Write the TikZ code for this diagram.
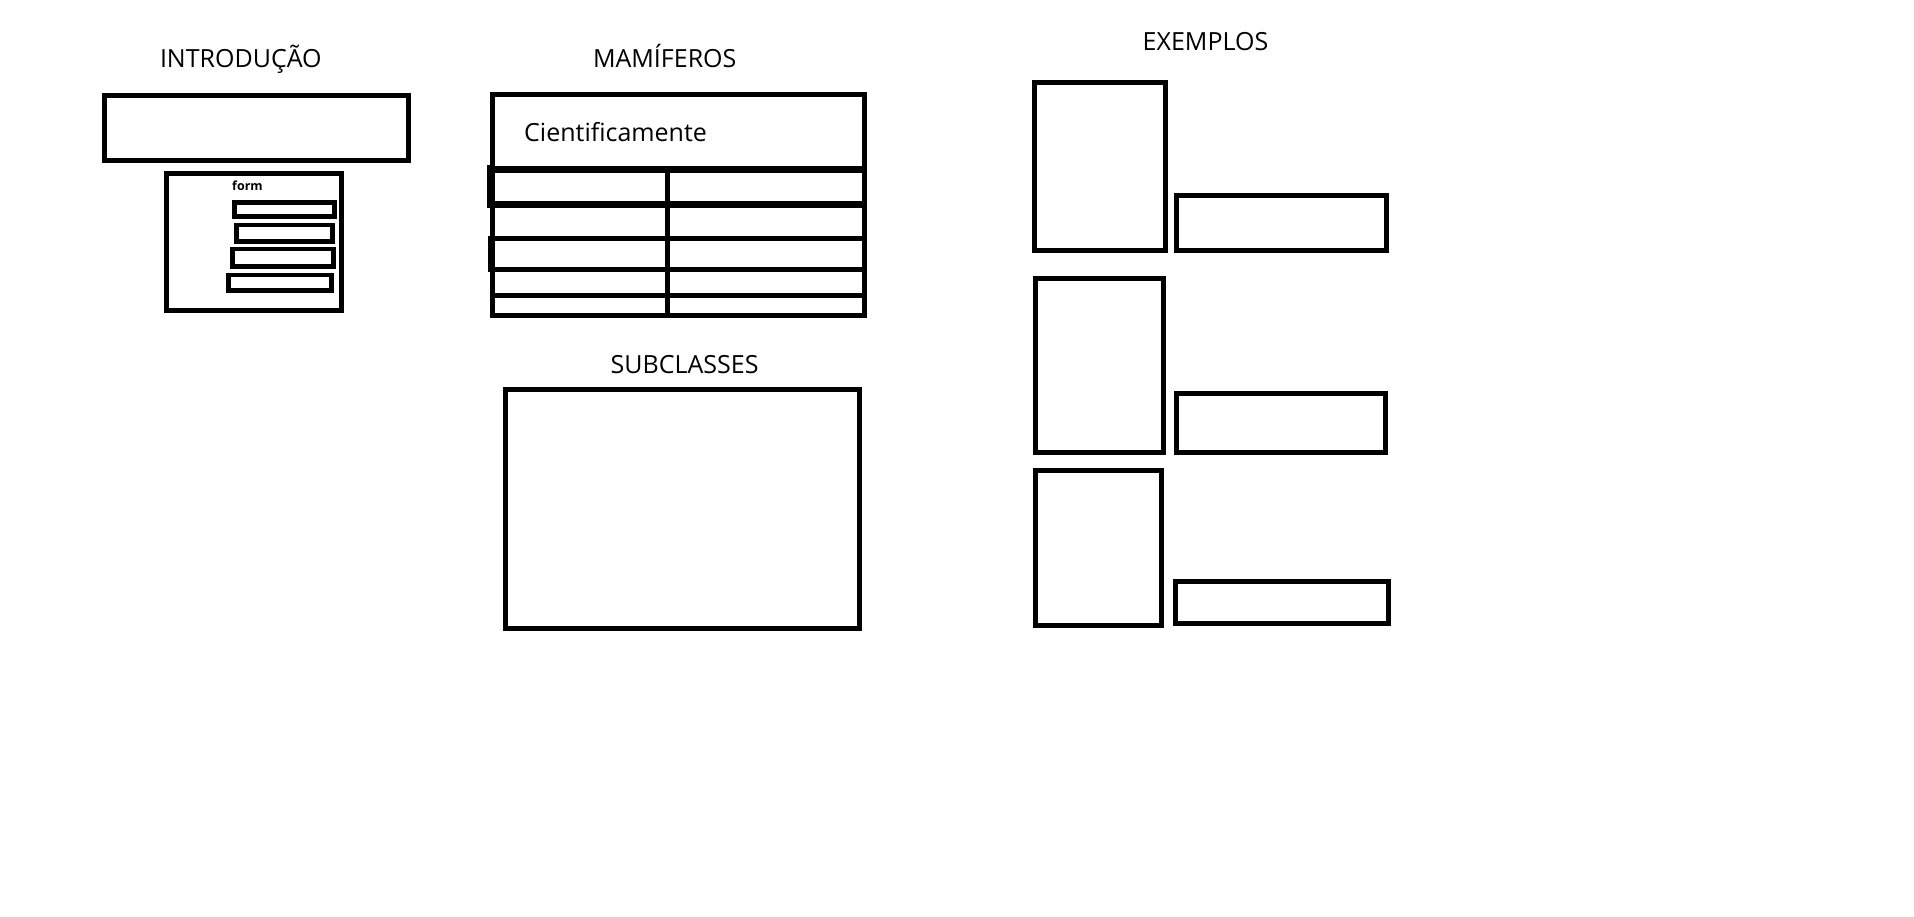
\documentclass[tikz,border=0pt]{standalone}
\usepackage{fontspec}
\setmainfont{Open Sans}
\tikzset{
  box/.style={draw=black, line width=5pt, inner sep=0pt, outer sep=0pt, fill=none},
  minibox/.style={draw=black, line width=4.5pt, inner sep=0pt, outer sep=0pt},
  title/.style={anchor=base west, inner sep=0pt, outer sep=0pt, font=\fontsize{25}{30}\selectfont},
  tline/.style={line width=5pt, line cap=rect},
}
\begin{document}
\begin{tikzpicture}[x=1pt,y=-1pt]
\useasboundingbox[fill=white] (0,0) rectangle (1914,917);

% INTRODUCAO
\node[title] (tintro) at (160,68) {INTRODUÇÃO};
\node[box, minimum width=304pt, minimum height=65pt] (intro) at (256.5,128) {};
\node[box, minimum width=175pt, minimum height=137pt] (form) at (254,242) {};
\node[anchor=base west, inner sep=0pt, font=\fontsize{12.5}{14}\selectfont\bfseries] (tform) at (232,191) {form};
\node[minibox, minimum width=100pt, minimum height=14pt] (f1) at (284.5,209.5) {};
\node[minibox, minimum width=96pt, minimum height=16.7pt] (f2) at (284.5,233.3) {};
\node[minibox, minimum width=101pt, minimum height=17.5pt] (f3) at (283,257.7) {};
\node[minibox, minimum width=103pt, minimum height=15.5pt] (f4) at (280,282.7) {};

% MAMIFEROS
\node[title] (tmam) at (593,68) {MAMÍFEROS};
\node[box, minimum width=372pt, minimum height=221pt] (mam) at (678.2,205.5) {};
\node[anchor=base west, inner sep=0pt, font=\fontsize{25}{30}\selectfont] (cient) at (524,142) {Cientificamente};
\fill[black] (487,165) rectangle (495,208.3);
\fill[black] (488.3,236) rectangle (494,271.7);
\draw[line width=7.3pt] (489.5,169.7) -- (866.7,169.7);
\draw[line width=7.7pt] (489.5,204.5) -- (866.7,204.5);
\draw[line width=4.7pt] (489.5,238.3) -- (866.7,238.3);
\draw[line width=5pt] (489.5,269.2) -- (866.7,269.2);
\draw[line width=5.3pt] (489.5,295.3) -- (866.7,295.3);
\draw[line width=5pt] (667.5,169.7) -- (667.5,316);

% SUBCLASSES
\node[title] (tsub) at (610.7,373.3) {SUBCLASSES};
\node[box, minimum width=353.4pt, minimum height=238.4pt] (sub) at (682.5,509) {};

% EXEMPLOS
\node[title] (tex) at (1142.7,51) {EXEMPLOS};
\node[box, minimum width=130.7pt, minimum height=168.3pt] (l1) at (1099.85,166.65) {};
\node[box, minimum width=210pt, minimum height=55pt] (r1) at (1281.5,222.7) {};
\node[box, minimum width=128.3pt, minimum height=174pt] (l2) at (1099.35,365.5) {};
\node[box, minimum width=209pt, minimum height=59.3pt] (r2) at (1281,422.85) {};
\node[box, minimum width=126.3pt, minimum height=155pt] (l3) at (1098.35,548) {};
\node[box, minimum width=213pt, minimum height=41.7pt] (r3) at (1282,602.35) {};
\end{tikzpicture}
\end{document}
